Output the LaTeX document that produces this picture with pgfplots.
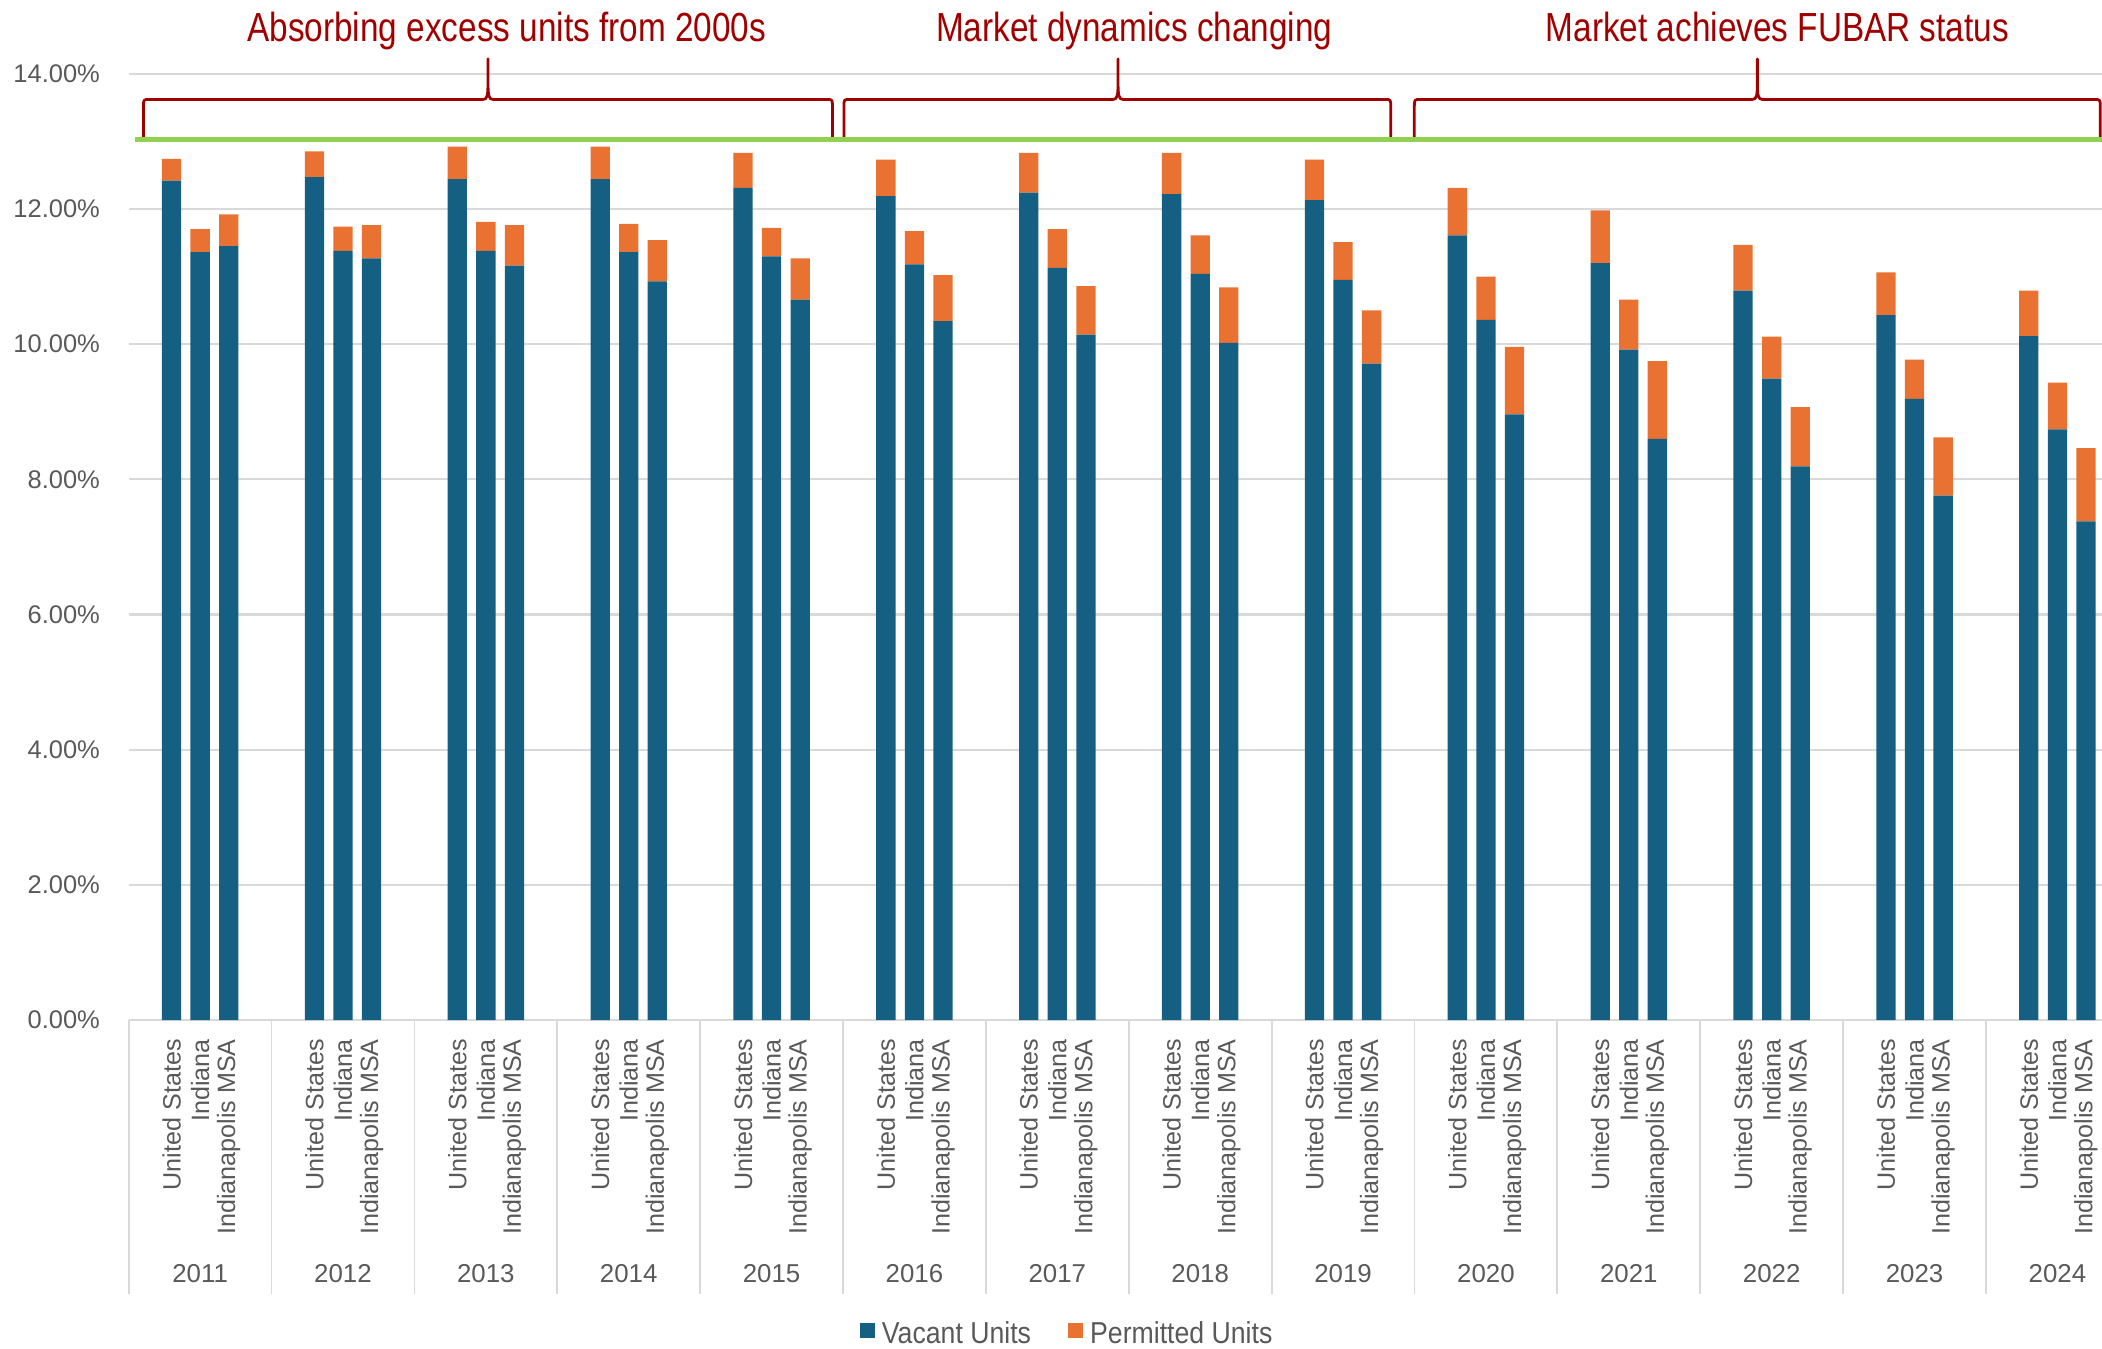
\documentclass[border=0pt]{standalone}
\usepackage{pgfplots}
\pgfplotsset{compat=1.18}
\usepackage{pgfplotstable}
\usepackage{fontspec}
\setmainfont{Liberation Sans}
\newfontfamily\narrowfont{Liberation Sans}[FakeStretch=0.88]
\newfontfamily\annofont{Liberation Sans}[FakeStretch=0.82]
\definecolor{vac}{HTML}{156082}
\definecolor{perm}{HTML}{E97132}
\definecolor{anno}{HTML}{A00000}
\definecolor{lgreen}{HTML}{92D050}
\definecolor{tickgray}{HTML}{595959}
\definecolor{gridgray}{HTML}{D9D9D9}

\pgfplotstableread{
x vac perm
-0.2 12.42 0.32
0 11.36 0.34
0.2 11.45 0.47
0.8 12.47 0.38
1 11.38 0.36
1.2 11.27 0.49
1.8 12.44 0.48
2 11.38 0.43
2.2 11.16 0.60
2.8 12.44 0.48
3 11.36 0.42
3.2 10.93 0.61
3.8 12.31 0.52
4 11.30 0.42
4.2 10.66 0.61
4.8 12.19 0.54
5 11.18 0.49
5.2 10.34 0.68
5.8 12.24 0.59
6 11.13 0.57
6.2 10.14 0.72
6.8 12.22 0.61
7 11.04 0.57
7.2 10.02 0.82
7.8 12.13 0.60
8 10.95 0.56
8.2 9.71 0.79
8.8 11.61 0.70
9 10.36 0.64
9.2 8.96 1.00
9.8 11.20 0.78
10 9.92 0.74
10.2 8.60 1.15
10.8 10.79 0.68
11 9.49 0.62
11.2 8.19 0.88
11.8 10.43 0.63
12 9.19 0.58
12.2 7.76 0.86
12.8 10.12 0.67
13 8.74 0.69
13.2 7.38 1.08
}\vacdata

\begin{document}
\begin{tikzpicture}
\begin{axis}[
  scale only axis,
  width=19.031cm, height=9.005cm,
  xmin=-0.5, xmax=13.5, ymin=0, ymax=14,
  clip=false,
  ybar stacked, bar width=0.135,
  axis line style={draw=none},
  major tick length=0pt,
  ytick={0,2,...,14},
  ymajorgrids, grid style={gridgray, line width=0.6pt},
  /pgf/number format/assume math mode=true,
  yticklabel={\pgfmathprintnumber[fixed,fixed zerofill,precision=2]{\tick}\%},
  yticklabel style={font=\fontsize{6.9}{8}\selectfont, text=tickgray, anchor=east, inner ysep=0pt, inner xsep=7.6pt},
  xtick={-0.2,0,0.2,0.8,1,1.2,1.8,2,2.2,2.8,3,3.2,3.8,4,4.2,4.8,5,5.2,5.8,6,6.2,6.8,7,7.2,7.8,8,8.2,8.8,9,9.2,9.8,10,10.2,10.8,11,11.2,11.8,12,12.2,12.8,13,13.2},
  xticklabels={United States,Indiana,Indianapolis MSA,United States,Indiana,Indianapolis MSA,United States,Indiana,Indianapolis MSA,United States,Indiana,Indianapolis MSA,United States,Indiana,Indianapolis MSA,United States,Indiana,Indianapolis MSA,United States,Indiana,Indianapolis MSA,United States,Indiana,Indianapolis MSA,United States,Indiana,Indianapolis MSA,United States,Indiana,Indianapolis MSA,United States,Indiana,Indianapolis MSA,United States,Indiana,Indianapolis MSA,United States,Indiana,Indianapolis MSA,United States,Indiana,Indianapolis MSA},
  xticklabel style={rotate=90, anchor=east, inner xsep=5pt, inner ysep=0pt, font=\fontsize{6.8}{8}\selectfont, text=tickgray},
  legend style={at={(0.4705,-0.3335)}, anchor=center, draw=none, fill=none,
    legend columns=2, font=\narrowfont\fontsize{8.2}{9}\selectfont, text=tickgray,
    /tikz/every even column/.append style={column sep=8pt}},
  legend image code/.code={\fill[#1] (0pt,-0.6pt) rectangle (4pt,3.4pt);},
]
\addplot[fill=vac, draw=none] table[x=x, y=vac] {\vacdata};
\addlegendentry{Vacant Units}
\addplot[fill=perm, draw=none] table[x=x, y=perm] {\vacdata};
\addlegendentry{Permitted Units}

\draw[gridgray, line width=0.5pt] (axis cs:-0.5,0) -- (axis cs:-0.5,-4.05);
\draw[gridgray, line width=0.5pt] (axis cs:0.5,0) -- (axis cs:0.5,-4.05);
\draw[gridgray, line width=0.5pt] (axis cs:1.5,0) -- (axis cs:1.5,-4.05);
\draw[gridgray, line width=0.5pt] (axis cs:2.5,0) -- (axis cs:2.5,-4.05);
\draw[gridgray, line width=0.5pt] (axis cs:3.5,0) -- (axis cs:3.5,-4.05);
\draw[gridgray, line width=0.5pt] (axis cs:4.5,0) -- (axis cs:4.5,-4.05);
\draw[gridgray, line width=0.5pt] (axis cs:5.5,0) -- (axis cs:5.5,-4.05);
\draw[gridgray, line width=0.5pt] (axis cs:6.5,0) -- (axis cs:6.5,-4.05);
\draw[gridgray, line width=0.5pt] (axis cs:7.5,0) -- (axis cs:7.5,-4.05);
\draw[gridgray, line width=0.5pt] (axis cs:8.5,0) -- (axis cs:8.5,-4.05);
\draw[gridgray, line width=0.5pt] (axis cs:9.5,0) -- (axis cs:9.5,-4.05);
\draw[gridgray, line width=0.5pt] (axis cs:10.5,0) -- (axis cs:10.5,-4.05);
\draw[gridgray, line width=0.5pt] (axis cs:11.5,0) -- (axis cs:11.5,-4.05);
\draw[gridgray, line width=0.5pt] (axis cs:12.5,0) -- (axis cs:12.5,-4.05);
\draw[gridgray, line width=0.5pt] (axis cs:13.5,0) -- (axis cs:13.5,-4.05);

\node[font=\fontsize{7}{8}\selectfont, text=tickgray] at (axis cs:0,-3.748) {2011};
\node[font=\fontsize{7}{8}\selectfont, text=tickgray] at (axis cs:1,-3.748) {2012};
\node[font=\fontsize{7}{8}\selectfont, text=tickgray] at (axis cs:2,-3.748) {2013};
\node[font=\fontsize{7}{8}\selectfont, text=tickgray] at (axis cs:3,-3.748) {2014};
\node[font=\fontsize{7}{8}\selectfont, text=tickgray] at (axis cs:4,-3.748) {2015};
\node[font=\fontsize{7}{8}\selectfont, text=tickgray] at (axis cs:5,-3.748) {2016};
\node[font=\fontsize{7}{8}\selectfont, text=tickgray] at (axis cs:6,-3.748) {2017};
\node[font=\fontsize{7}{8}\selectfont, text=tickgray] at (axis cs:7,-3.748) {2018};
\node[font=\fontsize{7}{8}\selectfont, text=tickgray] at (axis cs:8,-3.748) {2019};
\node[font=\fontsize{7}{8}\selectfont, text=tickgray] at (axis cs:9,-3.748) {2020};
\node[font=\fontsize{7}{8}\selectfont, text=tickgray] at (axis cs:10,-3.748) {2021};
\node[font=\fontsize{7}{8}\selectfont, text=tickgray] at (axis cs:11,-3.748) {2022};
\node[font=\fontsize{7}{8}\selectfont, text=tickgray] at (axis cs:12,-3.748) {2023};
\node[font=\fontsize{7}{8}\selectfont, text=tickgray] at (axis cs:13,-3.748) {2024};

\draw[lgreen, line width=1.3pt] (axis cs:-0.457,13.03) -- (axis cs:13.6,13.03);

\draw[anno, line width=0.75pt, line join=round]
 (axis cs:-0.397,13.05) -- (axis cs:-0.397,13.50) .. controls (axis cs:-0.397,13.62) .. (axis cs:-0.357,13.62)
 -- (axis cs:1.980,13.62) .. controls (axis cs:2.010,13.62) and (axis cs:2.015,13.67) .. (axis cs:2.015,13.9)
 -- (axis cs:2.015,14.22) -- (axis cs:2.015,13.9) .. controls (axis cs:2.015,13.67) and (axis cs:2.020,13.62) .. (axis cs:2.050,13.62)
 -- (axis cs:4.386,13.62) .. controls (axis cs:4.426,13.62) .. (axis cs:4.426,13.50) -- (axis cs:4.426,13.05);
\draw[anno, line width=0.75pt, line join=round]
 (axis cs:4.506,13.05) -- (axis cs:4.506,13.50) .. controls (axis cs:4.506,13.62) .. (axis cs:4.546,13.62)
 -- (axis cs:6.390,13.62) .. controls (axis cs:6.420,13.62) and (axis cs:6.425,13.67) .. (axis cs:6.425,13.9)
 -- (axis cs:6.425,14.22) -- (axis cs:6.425,13.9) .. controls (axis cs:6.425,13.67) and (axis cs:6.430,13.62) .. (axis cs:6.460,13.62)
 -- (axis cs:8.294,13.62) .. controls (axis cs:8.334,13.62) .. (axis cs:8.334,13.50) -- (axis cs:8.334,13.05);
\draw[anno, line width=0.75pt, line join=round]
 (axis cs:8.499,13.05) -- (axis cs:8.499,13.50) .. controls (axis cs:8.499,13.62) .. (axis cs:8.539,13.62)
 -- (axis cs:10.865,13.62) .. controls (axis cs:10.895,13.62) and (axis cs:10.90,13.67) .. (axis cs:10.90,13.9)
 -- (axis cs:10.90,14.22) -- (axis cs:10.90,13.9) .. controls (axis cs:10.90,13.67) and (axis cs:10.905,13.62) .. (axis cs:10.935,13.62)
 -- (axis cs:13.26,13.62) .. controls (axis cs:13.30,13.62) .. (axis cs:13.30,13.50) -- (axis cs:13.30,13.05);

\node[anchor=base, font=\annofont\fontsize{11}{13}\selectfont, text=anno] at (axis cs:2.146,14.476) {Absorbing excess units from 2000s};
\node[anchor=base, font=\annofont\fontsize{11}{13}\selectfont, text=anno] at (axis cs:6.538,14.476) {Market dynamics changing};
\node[anchor=base, font=\annofont\fontsize{11}{13}\selectfont, text=anno] at (axis cs:11.04,14.476) {Market achieves FUBAR status};

\coordinate (bbSW) at (rel axis cs:-0.064343,-0.347025);
\coordinate (bbNE) at (rel axis cs:0.986595,1.077904);
\end{axis}
\pgfresetboundingbox
\path[use as bounding box] (bbSW) rectangle (bbNE);
\end{tikzpicture}
\end{document}
